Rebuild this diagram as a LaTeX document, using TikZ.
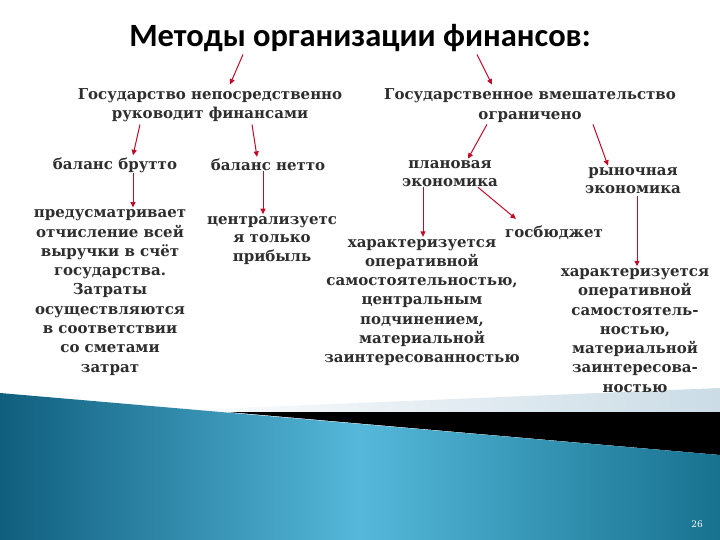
\documentclass[tikz,border=0pt]{standalone}
\usepackage{fontspec}
\setmainfont{DejaVu Serif}
\newfontfamily\titlefont{Carlito}
\usetikzlibrary{arrows.meta}
\definecolor{txtgray}{HTML}{2E2E2E}
\definecolor{arrred}{HTML}{C00A28}
\definecolor{bandgray}{HTML}{CBDCE6}
\definecolor{seadark}{HTML}{105E7E}
\definecolor{sealight}{HTML}{55B8DA}
\definecolor{searight}{HTML}{17728F}
\begin{document}
\begin{tikzpicture}[x=1pt, y=-1pt, every node/.style={inner sep=0pt},
  lbl/.style={font=\bfseries\fontsize{15}{19.3}\selectfont, text=txtgray, align=center},
  arr/.style={arrred, line width=1pt, -{Triangle[length=5.5pt,width=5pt]}}]
\useasboundingbox (0,0) rectangle (720,540);
% bottom band
\shade[left color=white, right color=bandgray] (140,412) -- (720,388) -- (720,412) -- cycle;
\fill[black] (228,412) -- (720,412) -- (720,455) -- cycle;
\shade[left color=seadark, right color=searight, middle color=sealight] (0,393) -- (720,455) -- (720,540) -- (0,540) -- cycle;
\node[text=white, font=\fontsize{9}{9}\selectfont] (pg) at (697,524) {26};
% title
\node[font=\titlefont\bfseries\fontsize{32.5}{36}\selectfont, anchor=base] (title) at (360,47) {Методы организации финансов:};
% headings
\node[lbl] (hL) at (210,105.5) {Государство непосредственно\\руководит финансами};
\node[lbl] (hR) at (530,105.5) {Государственное вмешательство\\ограничено};
% second row
\node[lbl] (bb) at (115,165) {баланс брутто};
\node[lbl] (bn) at (268,165) {баланс нетто};
\node[lbl, font=\bfseries\fontsize{15}{18}\selectfont] (pe) at (450,174) {плановая\\экономика};
\node[lbl, font=\bfseries\fontsize{15}{18}\selectfont] (re) at (633,181) {рыночная\\экономика};
% third row
\node[lbl] (lb) at (110,292.5) {предусматривает\\отчисление всей\\выручки в счёт\\государства.\\Затраты\\осуществляются\\в соответствии\\со сметами\\затрат};
\node[lbl, font=\bfseries\fontsize{15}{18.5}\selectfont] (cp) at (272,240.5) {централизуетс\\я только\\прибыль};
\node[lbl] (gb) at (554,233) {госбюджет};
\node[lbl] (mc) at (422,302.5) {характеризуется\\оперативной\\самостоятельностью,\\центральным\\подчинением,\\материальной\\заинтересованностью};
\node[lbl] (rb) at (635,330.5) {характеризуется\\оперативной\\самостоятель-\\ностью,\\материальной\\заинтересова-\\ностью};
% arrows
\draw[arr] ([xshift=-117pt,yshift=-2pt]title.south) -- ([xshift=20pt,yshift=4pt]hL.north);
\draw[arr] ([xshift=117pt,yshift=-2pt]title.south) -- ([xshift=-38pt,yshift=4pt]hR.north);
\draw[arr] ([xshift=-70pt,yshift=-2pt]hL.south) -- ([xshift=18pt,yshift=2pt]bb.north);
\draw[arr] ([xshift=42pt,yshift=-2pt]hL.south) -- ([xshift=-11pt,yshift=2pt]bn.north);
\draw[arr] ([xshift=-43pt,yshift=-2pt]hR.south) -- ([xshift=18pt,yshift=2pt]pe.north);
\draw[arr] ([xshift=63pt,yshift=-2pt]hR.south) -- ([xshift=-25pt,yshift=2pt]re.north);
\draw[arr] ([xshift=18pt]bb.south) -- ([xshift=23pt,yshift=2pt]lb.north);
\draw[arr] ([xshift=-5pt]bn.south) -- ([xshift=-9pt,yshift=2pt]cp.north);
\draw[arr] ([xshift=-27pt]pe.south) -- ([xshift=1pt,yshift=2pt]mc.north);
\draw[arr] ([xshift=28pt]pe.south) -- ([xshift=11pt,yshift=7pt]gb.north west);
\draw[arr] ([xshift=4pt,yshift=-2pt]re.south) -- ([xshift=2pt,yshift=2pt]rb.north);
\end{tikzpicture}
\end{document}
